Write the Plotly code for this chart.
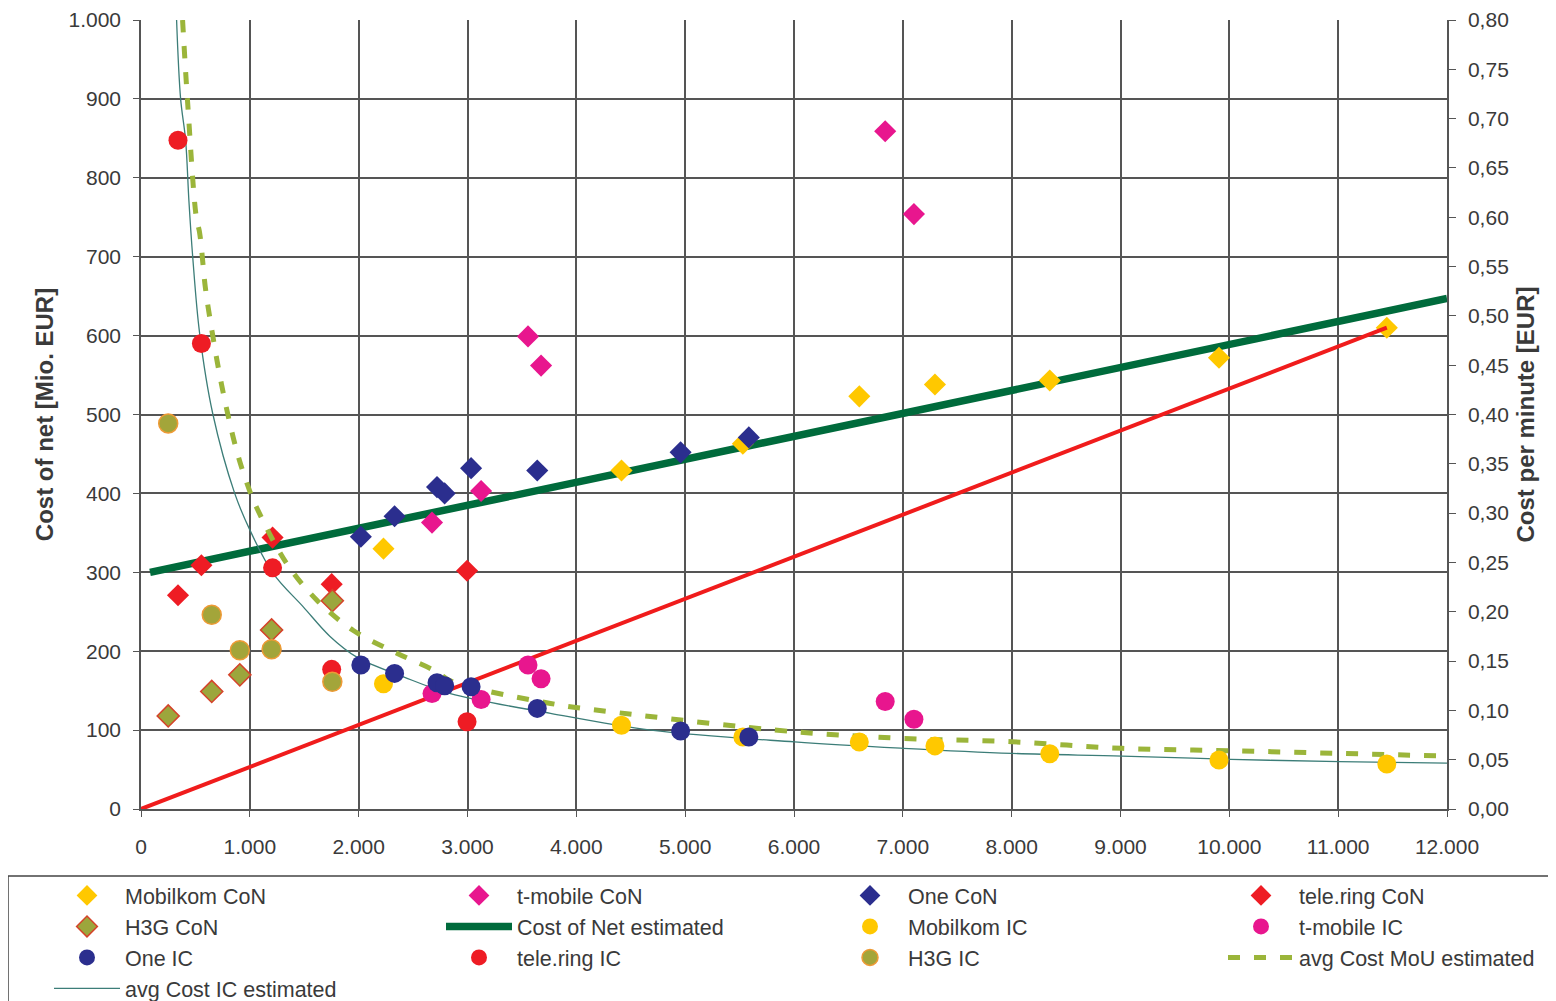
import plotly.graph_objects as go

# ---------------- data ----------------
x_tickvals = [0, 1000, 2000, 3000, 4000, 5000, 6000, 7000, 8000, 9000, 10000, 11000, 12000]
x_ticktext = ["0", "1.000", "2.000", "3.000", "4.000", "5.000", "6.000", "7.000", "8.000",
              "9.000", "10.000", "11.000", "12.000"]
y_tickvals = [0, 100, 200, 300, 400, 500, 600, 700, 800, 900, 1000]
y_ticktext = ["0", "100", "200", "300", "400", "500", "600", "700", "800", "900", "1.000"]
y2_tickvals = [0.0, 0.05, 0.10, 0.15, 0.20, 0.25, 0.30, 0.35, 0.40, 0.45, 0.50, 0.55, 0.60,
               0.65, 0.70, 0.75, 0.80]
y2_ticktext = ["0,00", "0,05", "0,10", "0,15", "0,20", "0,25", "0,30", "0,35", "0,40", "0,45",
               "0,50", "0,55", "0,60", "0,65", "0,70", "0,75", "0,80"]

# operator minutes of use (x) and cost of net (left axis) / cost per minute (right axis)
mobilkom_x = [2228, 4415, 5530, 6600, 7295, 8350, 9905, 11447]
mobilkom_con = [330, 429, 463, 523, 538, 543, 572, 610]
mobilkom_ic = [0.127, 0.085, 0.073, 0.068, 0.064, 0.056, 0.0497, 0.0456]

tmobile_x = [2674, 3125, 3556, 3676, 6838, 7102]
tmobile_con = [363, 403, 599, 562, 859, 754]
tmobile_ic = [0.117, 0.111, 0.146, 0.132, 0.109, 0.091]

one_x = [2020, 2330, 2720, 2790, 3033, 3641, 4958, 5585]
one_con = [345, 371, 408, 400, 432, 429, 452, 471]
one_ic = [0.146, 0.1375, 0.128, 0.125, 0.124, 0.102, 0.079, 0.073]

telering_x = [340, 555, 1209, 1752, 2996]
telering_con = [271, 309, 344, 285, 302]
telering_ic = [0.678, 0.472, 0.2445, 0.1416, 0.0885]

h3g_x = [250, 650, 908, 1200, 1758]
h3g_con = [118, 149, 170, 227, 264]
h3g_ic = [0.391, 0.197, 0.161, 0.162, 0.129]

# estimated curves
con_est_x = [83, 12000]
con_est_y = [300, 647]

mou_est_x = [382, 431, 508, 539, 591, 631, 739, 877, 984, 1061, 1338, 1614, 1951, 2351, 2720,
             2843, 3763, 4316, 6005, 7004, 8002, 9015, 10013, 11012, 12000]
mou_est_y = [0.80, 0.712, 0.600, 0.584, 0.529, 0.499, 0.431, 0.364, 0.327, 0.306, 0.249, 0.212,
             0.181, 0.158, 0.139, 0.130, 0.107, 0.0986, 0.0783, 0.0716, 0.0682, 0.0615, 0.0591,
             0.0564, 0.0537]

ic_est_x = [327, 364, 410, 440, 475, 539, 659, 861, 1000, 1214, 1491, 1737, 1983, 2412, 2843,
            3763, 4685, 6005, 7004, 8002, 9015, 10013, 11012, 12000]
ic_est_y = [0.80, 0.72, 0.678, 0.617, 0.560, 0.482, 0.401, 0.320, 0.283, 0.239, 0.205, 0.175,
            0.154, 0.134, 0.117, 0.097, 0.080, 0.068, 0.0615, 0.0564, 0.0537, 0.0504, 0.048,
            0.0465]

red_line_x = [0, 11447]
red_line_y = [0, 610]

# ---------------- styling ----------------
OFF = 8                       # page body margin
W, H = 1548, 993
ML, MR, MT, MB = 133, 109, 12, 192
PW, PH = W - ML - MR, H - MT - MB


def px2x(page_px):
    return (page_px - OFF - ML) / PW


def py2y(page_py):
    return (H - MB - (page_py - OFF)) / PH


FONT = "Liberation Sans, Arial, sans-serif"
TXT = "#3a3a3a"
C_MOB = "#FFC800"
C_TMO = "#E8168E"
C_ONE = "#2B2E8E"
C_TEL = "#EE1C24"
C_H3G = "#9CA63C"

fig = go.Figure()

# lines (behind markers)
fig.add_trace(go.Scatter(x=con_est_x, y=con_est_y, mode="lines", name="Cost of Net estimated",
                         line=dict(color="#006B3C", width=7.5), legend="legend2", legendrank=2))
fig.add_trace(go.Scatter(x=mou_est_x, y=mou_est_y, mode="lines", name="avg Cost MoU estimated",
                         yaxis="y2", line=dict(color="#9BB53A", width=5, dash="12px,14px",
                                               shape="spline"),
                         legend="legend4", legendrank=3))
fig.add_trace(go.Scatter(x=ic_est_x, y=ic_est_y, mode="lines", name="avg Cost IC estimated",
                         yaxis="y2", line=dict(color="#3C7D78", width=1.3, shape="spline"),
                         legend="legend", legendrank=4))


def diamond(x, y, name, color, leg, rank, edge=None, yaxis="y"):
    return go.Scatter(x=x, y=y, mode="markers", name=name, yaxis=yaxis,
                      marker=dict(symbol="diamond", size=17, color=color,
                                  line=dict(color=edge or color, width=1.5 if edge else 0)),
                      legend=leg, legendrank=rank)


def circle(x, y, name, color, leg, rank, edge=None):
    return go.Scatter(x=x, y=y, mode="markers", name=name, yaxis="y2",
                      marker=dict(symbol="circle", size=19, color=color,
                                  line=dict(color=edge or color, width=1.5 if edge else 0)),
                      legend=leg, legendrank=rank)


fig.add_trace(diamond(mobilkom_x, mobilkom_con, "Mobilkom CoN", C_MOB, "legend", 1))
fig.add_trace(diamond(tmobile_x, tmobile_con, "t-mobile CoN", C_TMO, "legend2", 1))
fig.add_trace(diamond(one_x, one_con, "One CoN", C_ONE, "legend3", 1))
fig.add_trace(diamond(telering_x, telering_con, "tele.ring CoN", C_TEL, "legend4", 1))
fig.add_trace(diamond(h3g_x, h3g_con, "H3G CoN", C_H3G, "legend", 2, edge="#D5432A"))
fig.add_trace(circle(mobilkom_x, mobilkom_ic, "Mobilkom IC", C_MOB, "legend3", 2))
fig.add_trace(circle(tmobile_x, tmobile_ic, "t-mobile IC", C_TMO, "legend4", 2))
fig.add_trace(circle(one_x, one_ic, "One IC", C_ONE, "legend", 3))
fig.add_trace(circle(telering_x, telering_ic, "tele.ring IC", C_TEL, "legend2", 3))
fig.add_trace(circle(h3g_x, h3g_ic, "H3G IC", "#A3A53A", "legend3", 3, edge="#EE9A35"))

fig.add_trace(go.Scatter(x=red_line_x, y=red_line_y, mode="lines", showlegend=False,
                         line=dict(color="#F01C1C", width=4), hoverinfo="skip"))

ITEMW = 66
leg_common = dict(orientation="v", xanchor="left", yanchor="top", bgcolor="rgba(0,0,0,0)",
                  borderwidth=0, font=dict(family=FONT, size=21.5, color=TXT), itemwidth=ITEMW,
                  traceorder="normal")
leg_top = py2y(875)
text_cols = [125, 517, 908, 1299]
leg_x = [px2x(t - ITEMW - 10) for t in text_cols]

axis_font = dict(family=FONT, size=21, color=TXT)
title_font = dict(family=FONT, size=24, color=TXT)
grid_col = "#555555"

fig.update_layout(
    width=W, height=H,
    margin=dict(l=ML, r=MR, t=MT, b=MB, autoexpand=False),
    paper_bgcolor="white", plot_bgcolor="white",
    font=dict(family=FONT, color=TXT),
    showlegend=True,
    legend=dict(x=leg_x[0], y=leg_top, **leg_common),
    legend2=dict(x=leg_x[1], y=leg_top, **leg_common),
    legend3=dict(x=leg_x[2], y=leg_top, **leg_common),
    legend4=dict(x=leg_x[3], y=leg_top, **leg_common),
    xaxis=dict(range=[0, 12000], tickvals=x_tickvals, ticktext=x_ticktext, showgrid=True,
               gridcolor=grid_col, gridwidth=1.5, showline=True, linecolor=grid_col,
               linewidth=1.5, ticks="outside", ticklen=6, tickcolor=grid_col,
               tickfont=axis_font, ticklabelstandoff=12, zeroline=False),
    yaxis=dict(range=[0, 1000], tickvals=y_tickvals, ticktext=y_ticktext, showgrid=True,
               gridcolor=grid_col, gridwidth=1.5, showline=True, linecolor=grid_col,
               linewidth=1.5, ticks="outside", ticklen=6, tickcolor=grid_col,
               tickfont=axis_font, ticklabelstandoff=8, zeroline=False,
               title=dict(text="<b>Cost of net [Mio. EUR]</b>", font=title_font, standoff=8)),
    yaxis2=dict(range=[0, 0.8], tickvals=y2_tickvals, ticktext=y2_ticktext, overlaying="y",
                side="right", anchor="x", showgrid=False, showline=True, linecolor=grid_col,
                linewidth=1.5, ticks="outside", ticklen=7, tickcolor=grid_col,
                tickfont=axis_font, ticklabelstandoff=8, zeroline=False,
                title=dict(text="<b>Cost per minute [EUR]</b>", font=title_font, standoff=9)),
    yaxis3=dict(range=[0, 0.8], tickvals=y2_tickvals, overlaying="y", side="right", anchor="x",
                showgrid=False, showline=False, ticks="inside", ticklen=7, tickcolor=grid_col,
                showticklabels=False, zeroline=False),
    shapes=[dict(type="rect", xref="paper", yref="paper", x0=px2x(8), x1=px2x(1570),
                 y0=py2y(1020), y1=py2y(876), line=dict(color="#444444", width=1.5),
                 fillcolor="rgba(0,0,0,0)", layer="below")],
)

fig.write_html("out.html")
